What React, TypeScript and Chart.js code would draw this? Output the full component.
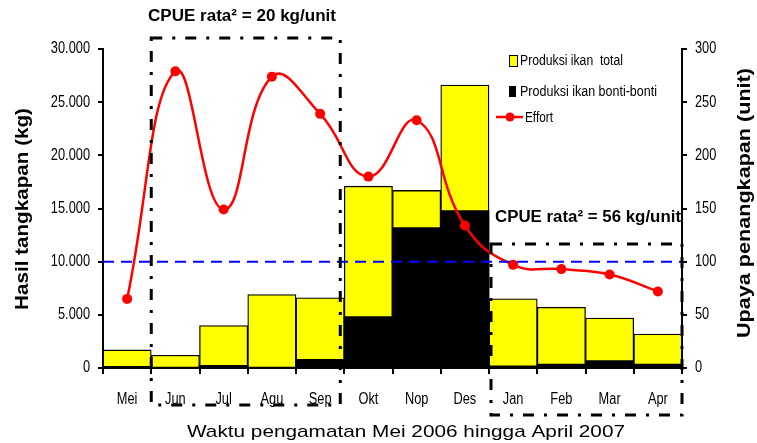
import React, { useEffect, useRef } from "react";
import { Chart, registerables } from "chart.js";

Chart.register(...registerables);

// ---- data ----
const months = ["Mei", "Jun", "Jul", "Agu", "Sep", "Okt", "Nop", "Des", "Jan", "Feb", "Mar", "Apr"];
const totalCatch = [1700, 1200, 4000, 6900, 6600, 17100, 16700, 26600, 6500, 5700, 4700, 3200];
const bontiCatch = [150, 40, 250, 60, 820, 4830, 13200, 14800, 200, 380, 690, 380];
const effort = [65, 279, 149, 274, 239, 180, 233, 134, 97, 93, 88, 72];
const leftMax = 30000;
const leftStep = 5000;
const rightMax = 300;
const rightStep = 50;
const cpueLine = 10000;
const cpueNote1 = "CPUE rata² = 20 kg/unit";
const cpueNote2 = "CPUE rata² = 56 kg/unit";
const box1Range = [1, 4]; // Jun..Sep
const box2Range = [8, 11]; // Jan..Apr
const legendTotal = "Produksi ikan  total";
const legendBonti = "Produksi ikan bonti-bonti";
const legendEffort = "Effort";
const titleLeft = "Hasil tangkapan (kg)";
const titleRight = "Upaya penangkapan (unit)";
const titleX = "Waktu pengamatan Mei 2006 hingga April 2007";

const SANS = "'Liberation Sans', Arial, sans-serif";
const NARROW_SCALE = 0.8;

function fitText(ctx: CanvasRenderingContext2D, text: string, cx: number, cy: number, font: string, width: number, rot = 0, color = "#000") {
  ctx.save();
  ctx.font = font;
  ctx.fillStyle = color;
  ctx.textAlign = "center";
  ctx.textBaseline = "middle";
  const w = ctx.measureText(text).width;
  ctx.translate(cx, cy);
  if (rot) ctx.rotate(rot);
  ctx.scale(width / w, 1);
  ctx.fillText(text, 0, 0);
  ctx.restore();
}

function narrowText(ctx: CanvasRenderingContext2D, text: string, x: number, y: number, align: CanvasTextAlign, font: string) {
  ctx.save();
  ctx.font = font;
  ctx.fillStyle = "#000";
  ctx.textAlign = align;
  ctx.textBaseline = "middle";
  ctx.translate(x, y);
  ctx.scale(NARROW_SCALE, 1);
  ctx.fillText(text, 0, 0);
  ctx.restore();
}

const fmt = (v: number) => String(v).replace(/\B(?=(\d{3})+(?!\d))/g, ".");

const decorPlugin = {
  id: "decor",
  afterDatasetsDraw(chart: any) {
    const { ctx, chartArea, scales } = chart;
    const x = scales.x;
    const y = scales.y;
    const half = (x.getPixelForValue(1) - x.getPixelForValue(0)) / 2;

    // blue dashed reference line
    const yl = y.getPixelForValue(cpueLine);
    ctx.save();
    ctx.strokeStyle = "#0000FF";
    ctx.lineWidth = 2;
    ctx.setLineDash([11, 7]);
    ctx.beginPath();
    ctx.moveTo(chartArea.left, yl);
    ctx.lineTo(chartArea.right, yl);
    ctx.stroke();
    ctx.restore();

    // dash-dot boxes
    const drawBox = (l: number, t: number, r: number, b: number) => {
      ctx.save();
      ctx.strokeStyle = "#000";
      ctx.lineWidth = 3;
      ctx.setLineDash([11, 10, 3, 10]);
      ctx.strokeRect(l, t, r - l, b - t);
      ctx.restore();
    };
    const b1l = x.getPixelForValue(box1Range[0]) - half;
    const b1r = x.getPixelForValue(box1Range[1]) + half - 4;
    drawBox(b1l, chartArea.top - 11, b1r, chartArea.bottom + 37);
    const b2l = x.getPixelForValue(box2Range[0]) - half + 2;
    const b2r = x.getPixelForValue(box2Range[1]) + half;
    drawBox(b2l, chartArea.top + 195, b2r, chartArea.bottom + 47);

    // CPUE notes
    fitText(ctx, cpueNote1, 242, 17, `bold 16px ${SANS}`, 188);
    fitText(ctx, cpueNote2, 588, 218, `bold 16px ${SANS}`, 186);

    // legend
    ctx.save();
    ctx.fillStyle = "#FFFF00";
    ctx.fillRect(509, 55, 9, 12);
    ctx.strokeStyle = "#000";
    ctx.lineWidth = 1;
    ctx.strokeRect(509.5, 55.5, 8, 11);
    ctx.fillStyle = "#000";
    ctx.fillRect(509, 86, 7, 11);
    ctx.strokeStyle = "#FF0000";
    ctx.lineWidth = 2.5;
    ctx.beginPath();
    ctx.moveTo(496, 117);
    ctx.lineTo(523, 117);
    ctx.stroke();
    ctx.fillStyle = "#FF0000";
    ctx.beginPath();
    ctx.arc(510, 117, 4.5, 0, Math.PI * 2);
    ctx.fill();
    ctx.restore();
    ctx.save();
    ctx.fillStyle = "#000";
    ctx.textBaseline = "middle";
    ctx.textAlign = "left";
    ctx.font = `14px ${SANS}`;
    const drawL = (t: string, lx: number, ly: number, w: number) => {
      ctx.save();
      const mw = ctx.measureText(t).width;
      ctx.translate(lx, ly);
      ctx.scale(w / mw, 1);
      ctx.fillText(t, 0, 0);
      ctx.restore();
    };
    drawL(legendTotal, 520, 61, 103);
    drawL(legendBonti, 520, 92, 137);
    drawL(legendEffort, 525, 118, 28);
    ctx.restore();
  },
  afterDraw(chart: any) {
    const { ctx, scales } = chart;
    const tf = `16px ${SANS}`;
    // tick labels (narrow, from library scales)
    const x = scales.x;
    x.ticks.forEach((_t: any, i: number) => {
      narrowText(ctx, String(chart.data.labels[i]), x.getPixelForTick(i), 400, "center", tf);
    });
    const y = scales.y;
    y.ticks.forEach((t: any, i: number) => {
      narrowText(ctx, fmt(t.value), y.left + y.width - 13, y.getPixelForTick(i), "right", tf);
    });
    const y1 = scales.y1;
    y1.ticks.forEach((t: any, i: number) => {
      narrowText(ctx, String(t.value), y1.left + 13, y1.getPixelForTick(i), "left", tf);
    });
    fitText(ctx, titleLeft, 23, 209, `bold 18px ${SANS}`, 202, -Math.PI / 2);
    fitText(ctx, titleRight, 745, 203, `bold 18px ${SANS}`, 270, -Math.PI / 2);
    fitText(ctx, titleX, 406, 432, `17px ${SANS}`, 438);
  },
};

export default function App() {
  const ref = useRef<HTMLCanvasElement | null>(null);
  useEffect(() => {
    if (!ref.current) return;
    const chart = new Chart(ref.current, {
      type: "bar",
      data: {
        labels: months,
        datasets: [
          {
            type: "line",
            label: legendEffort,
            data: effort,
            yAxisID: "y1",
            borderColor: "#FF0000",
            backgroundColor: "#FF0000",
            borderWidth: 2.5,
            pointRadius: 5,
            pointBorderWidth: 0,
            tension: 0.45,
            order: 0,
          } as any,
          {
            type: "bar",
            label: legendBonti,
            data: bontiCatch,
            yAxisID: "y",
            backgroundColor: "#000000",
            borderWidth: 0,
            grouped: false,
            categoryPercentage: 1,
            barPercentage: 1,
            order: 1,
          } as any,
          {
            type: "bar",
            label: legendTotal,
            data: totalCatch,
            yAxisID: "y",
            backgroundColor: "#FFFF00",
            borderColor: "#000000",
            borderWidth: 1.3,
            grouped: false,
            categoryPercentage: 1,
            barPercentage: 1,
            order: 2,
          } as any,
        ],
      },
      options: {
        animation: false,
        responsive: true,
        maintainAspectRatio: false,
        layout: { padding: { top: 49, left: 0, right: 0, bottom: 0 } },
        plugins: { legend: { display: false }, tooltip: { enabled: false } },
        scales: {
          x: {
            grid: { display: true, drawOnChartArea: false, drawTicks: true, tickLength: 6, color: "#000", lineWidth: 2, offset: true },
            border: { display: true, color: "#000", width: 2 },
            ticks: { display: false },
            afterFit: (s: any) => { s.height = 75; },
          },
          y: {
            position: "left",
            min: 0,
            max: leftMax,
            grid: { display: true, drawOnChartArea: false, drawTicks: true, tickLength: 5, color: "#000", lineWidth: 2 },
            border: { display: true, color: "#000", width: 2 },
            ticks: { display: false, stepSize: leftStep },
            afterFit: (s: any) => { s.width = 103; },
          },
          y1: {
            position: "right",
            min: 0,
            max: rightMax,
            grid: { display: true, drawOnChartArea: false, drawTicks: true, tickLength: 5, color: "#000", lineWidth: 2 },
            border: { display: true, color: "#000", width: 2 },
            ticks: { display: false, stepSize: rightStep },
            afterFit: (s: any) => { s.width = 75; },
          },
        },
      },
      plugins: [decorPlugin],
    });
    return () => chart.destroy();
  }, []);
  return (
    <div style={{ position: "fixed", left: 0, top: 0, width: 757, height: 443, background: "#fff" }}>
      <canvas ref={ref} />
    </div>
  );
}
